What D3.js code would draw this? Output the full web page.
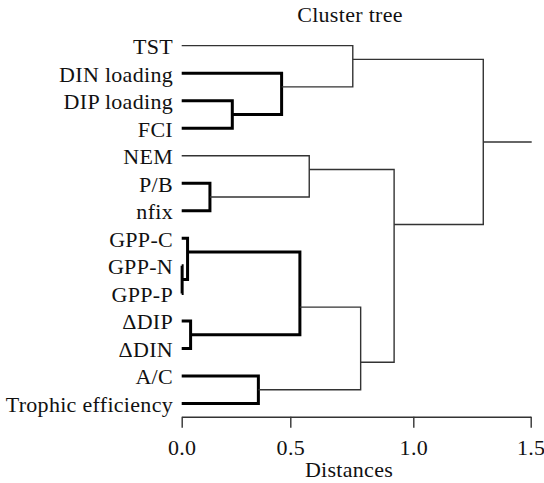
<!DOCTYPE html>
<html>
<head>
<meta charset="utf-8">
<script src="https://cdn.jsdelivr.net/npm/d3@7"></script>
<style>
  body { margin: 0; background: #fff; }
</style>
</head>
<body>
<div id="chart"></div>
<script>
// leaves, top to bottom
const leaves = ["TST", "DIN loading", "DIP loading", "FCI", "NEM", "P/B", "nfix",
                "GPP-C", "GPP-N", "GPP-P", "\u0394DIP", "\u0394DIN", "A/C", "Trophic efficiency"];

// linkage: [left, right, distance]; indices >= leaves.length refer to earlier merges
const merges = [
    [2, 3, 0.233],    // 14 DIP loading + FCI
    [1, 14, 0.460],   // 15
    [0, 15, 0.754],   // 16
    [5, 6, 0.130],    // 17 P/B + nfix
    [4, 17, 0.577],   // 18
    [8, 9, 0.002],    // 19 GPP-N + GPP-P
    [7, 19, 0.027],   // 20
    [10, 11, 0.041],  // 21 dDIP + dDIN
    [20, 21, 0.539],  // 22
    [12, 13, 0.353],  // 23 A/C + Trophic efficiency
    [22, 23, 0.786],  // 24
    [18, 24, 0.922],  // 25
    [16, 25, 1.298]   // 26 root
];

const tickValues = [0, 0.5, 1.0, 1.5];
const thickCutoff = 0.55;

const width = 544, height = 483;
const serif = "'Liberation Serif', 'Times New Roman', 'DejaVu Serif', serif";

const svg = d3.select("#chart").append("svg")
    .attr("width", width)
    .attr("height", height)
    .style("font-family", serif);

// printed axis is slightly uneven, so map each tick to where it sits
const x = d3.scaleLinear()
    .domain(tickValues)
    .range([181.7, 290.3, 413.3, 530.7]);

const y = d3.scalePoint()
    .domain(leaves)
    .range([45.6, 403.5]);

// build nodes
const nodes = leaves.map((name, i) => ({ name: name, h: 0, first: i, last: i, y: y(name) }));
merges.forEach(m => {
    const a = nodes[m[0]], b = nodes[m[1]];
    nodes.push({
        a: a, b: b, h: m[2],
        first: a.first, last: b.last,
        // joint sits between the two groups
        y: (y(leaves[a.last]) + y(leaves[b.first])) / 2
    });
});
const root = nodes[nodes.length - 1];

// branches
const g = svg.append("g").attr("fill", "none");
nodes.filter(n => n.a).forEach(n => {
    const thick = n.h < thickCutoff;
    g.append("path")
        .attr("d", `M${x(n.a.h)},${n.a.y}H${x(n.h)}V${n.b.y}H${x(n.b.h)}`)
        .attr("stroke", thick ? "#000" : "#333")
        .attr("stroke-width", thick ? 3 : 1.4)
        .attr("stroke-linejoin", "miter");
});

// root stub
g.append("line")
    .attr("x1", x(root.h)).attr("x2", x(1.5) + 1)
    .attr("y1", root.y).attr("y2", root.y)
    .attr("stroke", "#333")
    .attr("stroke-width", 1.4);

function styleText(sel) {
    sel.style("font-family", serif)
        .attr("font-size", 22)
        .attr("letter-spacing", 0.3)
        .attr("fill", "#111");
}

// leaf labels
svg.append("g").selectAll("text")
    .data(leaves)
    .enter().append("text")
    .attr("x", 173)
    .attr("y", d => y(d) + 8.5)
    .attr("text-anchor", "end")
    .text(d => d)
    .call(styleText);

// axis
const axis = svg.append("g")
    .attr("transform", "translate(0,416.7)")
    .call(d3.axisBottom(x)
        .tickValues(tickValues)
        .tickFormat(d3.format(".1f"))
        .tickSize(11)
        .tickSizeOuter(0));
axis.attr("font-family", null);
axis.select(".domain").attr("stroke", "#333").attr("stroke-width", 1.4);
axis.selectAll(".tick line").attr("stroke", "#333").attr("stroke-width", 1.4);
axis.selectAll(".tick text")
    .call(styleText)
    .attr("dy", 0)
    .attr("y", 38.5);

svg.append("text")
    .attr("x", 349)
    .attr("y", 477)
    .attr("text-anchor", "middle")
    .text("Distances")
    .call(styleText);

svg.append("text")
    .attr("x", 350)
    .attr("y", 21.5)
    .attr("text-anchor", "middle")
    .text("Cluster tree")
    .call(styleText);
</script>
</body>
</html>
